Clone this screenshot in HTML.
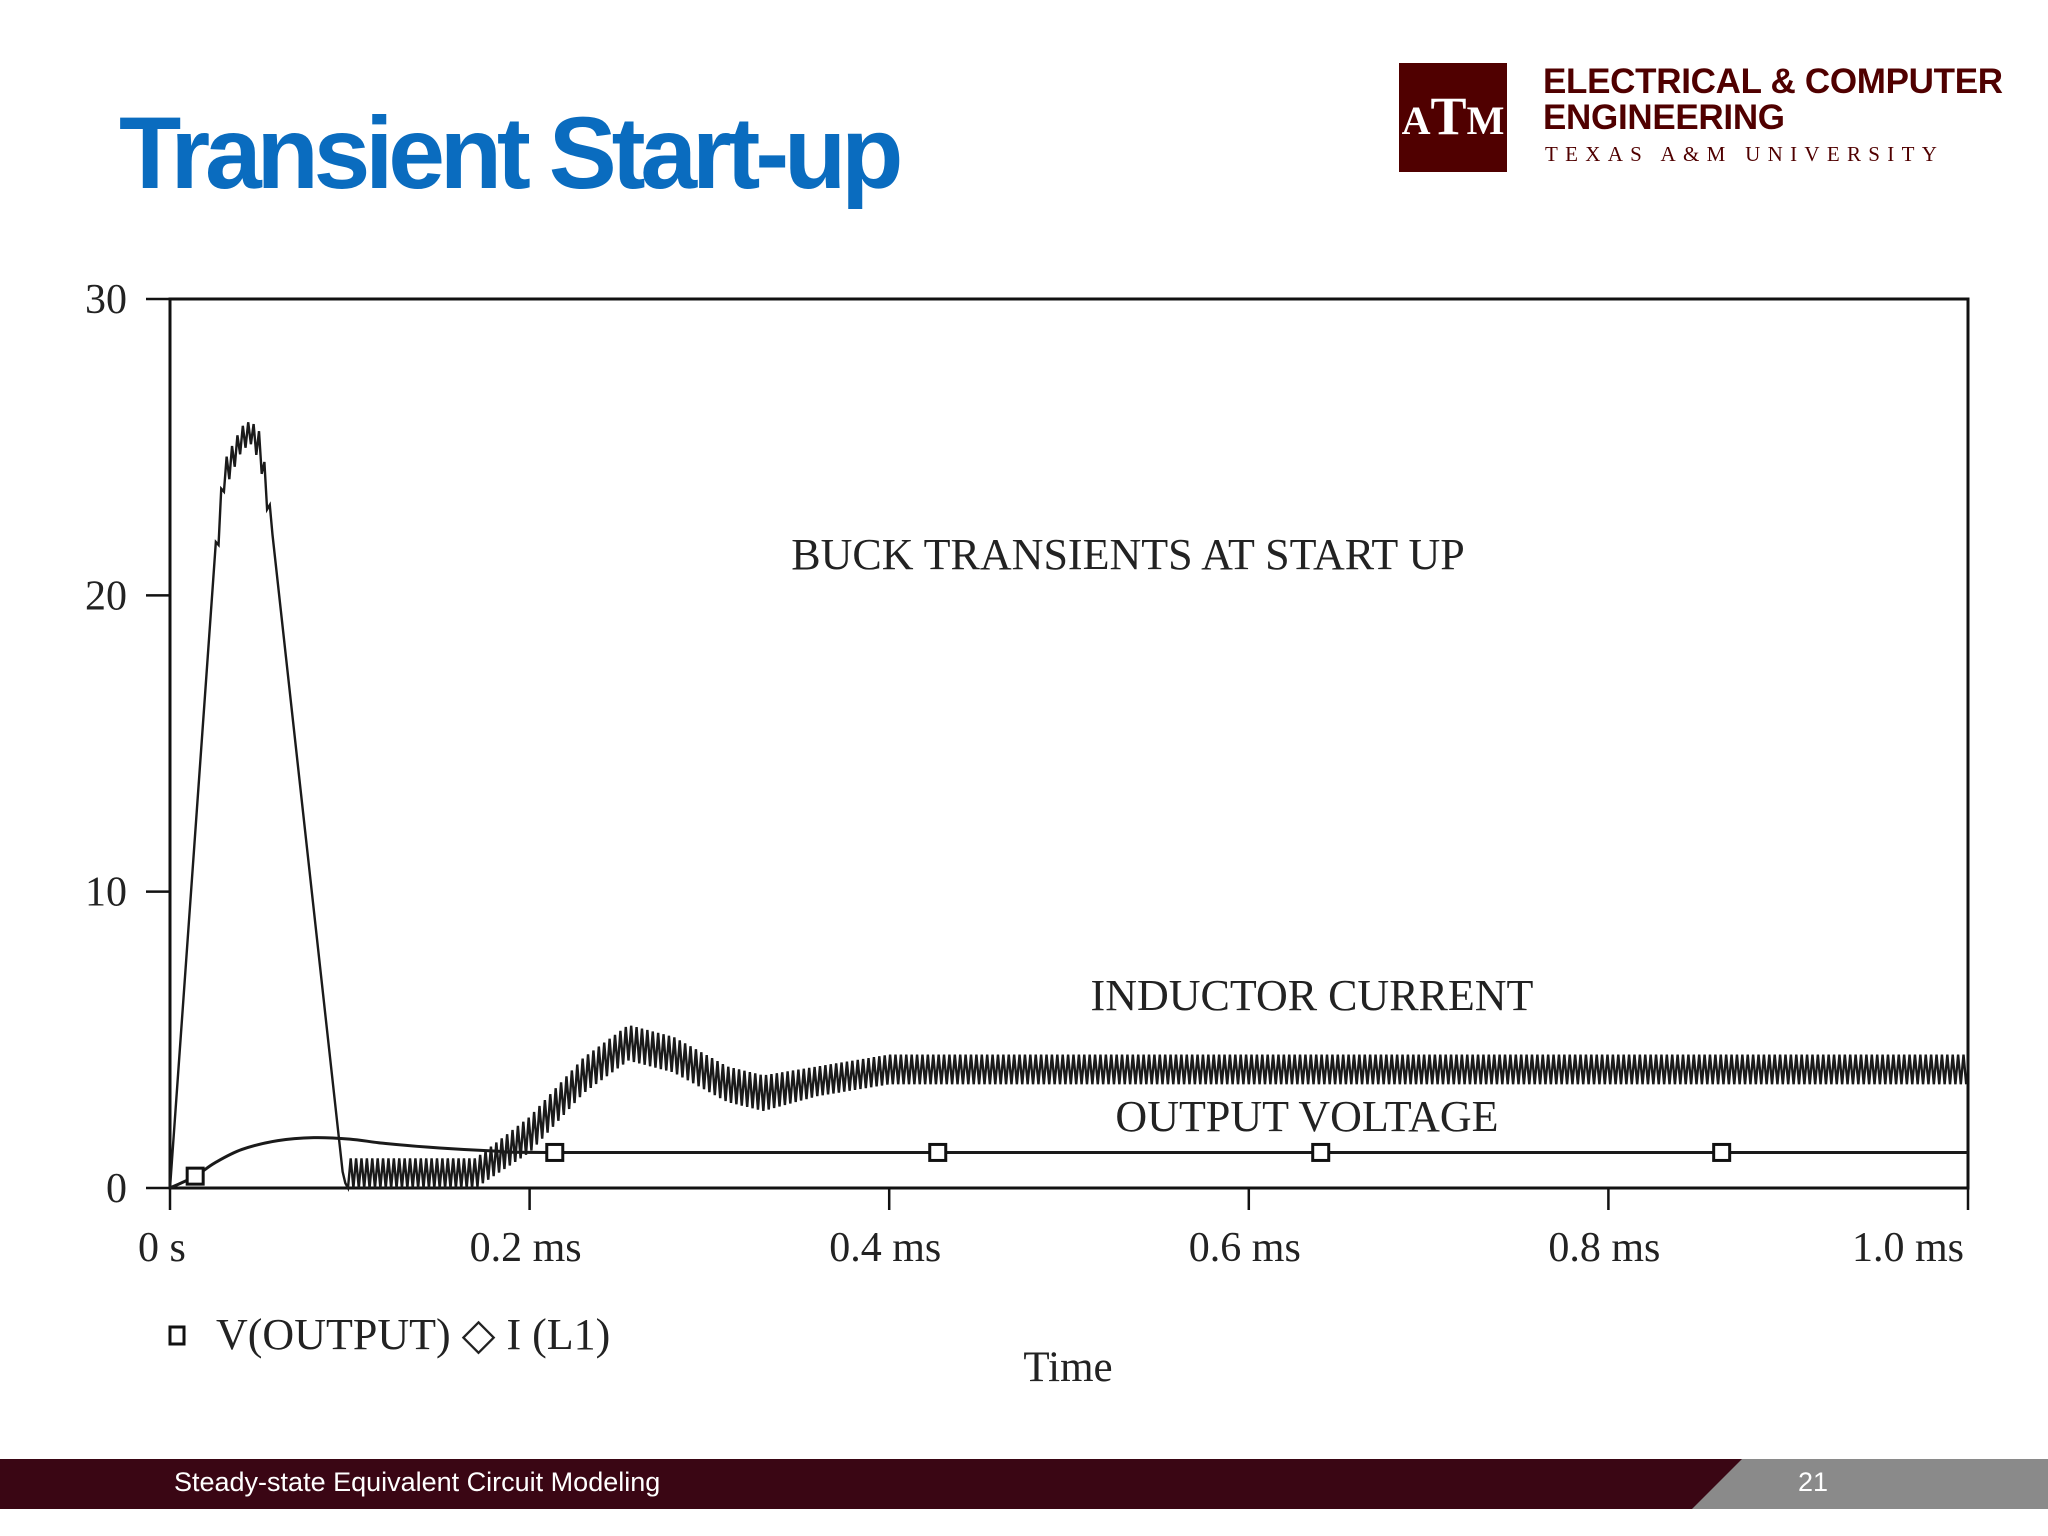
<!DOCTYPE html>
<html><head><meta charset="utf-8">
<style>
html,body{margin:0;padding:0;background:#fff;}
#page{position:relative;width:2048px;height:1536px;overflow:hidden;background:#fff;font-family:"Liberation Sans",sans-serif;}
.abs{position:absolute;}
</style></head>
<body>
<div id="page">
  <div class="abs" style="left:119px;top:98px;font-size:102px;font-weight:bold;color:#0a6cbf;letter-spacing:-5.2px;line-height:110px;">Transient Start-up</div>
  <div class="abs" style="left:1399px;top:63px;width:108px;height:109px;background:#500000;">
    <div style="position:absolute;left:0;top:22px;width:108px;text-align:center;color:#fff;font-family:'Liberation Serif',serif;font-weight:bold;font-size:40px;">A<span style="font-size:54px;">T</span>M</div>
  </div>
  <div class="abs" style="left:1543px;top:64px;font-size:35px;font-weight:bold;color:#500000;line-height:36px;letter-spacing:-0.3px;">ELECTRICAL &amp; COMPUTER<br>ENGINEERING</div>
  <div class="abs" style="left:1545px;top:142px;font-family:'Liberation Serif',serif;font-size:21px;color:#500000;letter-spacing:7.3px;">TEXAS A&amp;M UNIVERSITY</div>

  <svg class="abs" style="left:0;top:0" width="2048" height="1536" id="chart"></svg>

  <div class="abs" style="left:0;top:1459px;width:2048px;height:50px;background:#8a8a8a;"></div>
  <div class="abs" style="left:0;top:1459px;width:1742px;height:50px;background:#3a0614;clip-path:polygon(0 0,100% 0,calc(100% - 50px) 100%,0 100%);"></div>
  <div class="abs" style="left:174px;top:1467px;font-size:27px;color:#fff;">Steady-state Equivalent Circuit Modeling</div>
  <div class="abs" style="left:1798px;top:1467px;font-size:27px;color:#fff;">21</div>
</div>
<script>
// Inductor current envelope (ms, A mean, half ripple)
const iTimes = [0, 0.024, 0.025, 0.03, 0.04, 0.045, 0.05, 0.055, 0.056, 0.097, 0.1, 0.17, 0.2, 0.23, 0.255, 0.28, 0.31, 0.33, 0.36, 0.4, 0.5, 1.0];
const iMean  = [0, 20.5, 21, 24, 25.3, 25.5, 25, 23, 22.6, 0, 0.5, 0.5, 1.8, 3.8, 4.9, 4.5, 3.5, 3.2, 3.6, 4.0, 4.0, 4.0];
const iRipple= [0, 0, 0.5, 0.5, 0.4, 0.4, 0.5, 0.5, 0, 0, 0.5, 0.5, 0.6, 0.6, 0.6, 0.6, 0.6, 0.6, 0.5, 0.5, 0.5, 0.5];
// Output voltage
const vTimes = [0, 0.014, 0.025, 0.04, 0.06, 0.08, 0.1, 0.12, 0.15, 0.18, 0.21, 0.4, 1.0];
const vValues= [0, 0.4, 0.85, 1.3, 1.6, 1.7, 1.65, 1.5, 1.35, 1.25, 1.2, 1.2, 1.2];
const markerTimes = [0.014, 0.214, 0.427, 0.64, 0.863];
const yTicks = [0, 10, 20, 30];
const xTicks = [0, 0.2, 0.4, 0.6, 0.8, 1.0];
const xTickLabels = ["0 s", "0.2 ms", "0.4 ms", "0.6 ms", "0.8 ms", "1.0 ms"];

const NS = "http://www.w3.org/2000/svg";
const svg = document.getElementById('chart');
const L=170, R=1968, T=299, B=1188;
const X = t => L + t/1.0*(R-L);
const Y = v => B - v/30*(B-T);
function mk(tag, attrs, parent){const e=document.createElementNS(NS,tag);for(const k in attrs)e.setAttribute(k,attrs[k]);(parent||svg).appendChild(e);return e;}
function interp(ts, vs, t){for(let i=1;i<ts.length;i++){if(t<=ts[i]){const f=(t-ts[i-1])/(ts[i]-ts[i-1]||1);return vs[i-1]+f*(vs[i]-vs[i-1]);}}return vs[vs.length-1];}
const serif = '"Liberation Serif", serif';

const frame = mk('rect',{x:L,y:T,width:R-L,height:B-T,fill:'none',stroke:'#111','stroke-width':3});



yTicks.forEach(v=>{
  const tk=mk('line',{x1:L-24,x2:L,y1:Y(v),y2:Y(v),stroke:'#111','stroke-width':2.5});
  
  
  const tx=mk('text',{x:127,y:Y(v)+14,'text-anchor':'end','font-family':serif,'font-size':42,fill:'#222'});
  tx.textContent=v;
  
  
});
xTicks.forEach((t,i)=>{
  const tk=mk('line',{x1:X(t),x2:X(t),y1:B,y2:B+22,stroke:'#111','stroke-width':2.5});
  
  
  const anchor = i===0?'start':(i===xTicks.length-1?'end':'middle');
  const xx = i===0?X(t)-32:X(t)-4;
  const tx=mk('text',{x:xx,y:1261,'text-anchor':anchor,'font-family':serif,'font-size':42,fill:'#222'});
  tx.textContent=xTickLabels[i];
  
  
});

// inductor current with switching ripple
const period = 0.003;
let pts=[[X(0),Y(0)]];
for(let t=0.0; t<=1.0+1e-9; t+=period/2){
  const k=Math.round(t/(period/2));
  const m=interp(iTimes,iMean,t), r=interp(iTimes,iRipple,t);
  const v = m + (k%2===0?-r:r);
  pts.push([X(t),Y(Math.max(0,v))]);
}
const ipath=mk('polyline',{points:pts.map(p=>p.join(',')).join(' '),fill:'none',stroke:'#1a1a1a','stroke-width':2.4,'stroke-linejoin':'miter'});



// output voltage (smoothed via Catmull-Rom through data points)
function cr(ts,vs){let d=`M${X(ts[0])},${Y(vs[0])}`;for(let i=0;i<ts.length-1;i++){const p0=[X(ts[Math.max(0,i-1)]),Y(vs[Math.max(0,i-1)])],p1=[X(ts[i]),Y(vs[i])],p2=[X(ts[i+1]),Y(vs[i+1])],p3=[X(ts[Math.min(ts.length-1,i+2)]),Y(vs[Math.min(ts.length-1,i+2)])];d+=` C${p1[0]+(p2[0]-p0[0])/6},${p1[1]+(p2[1]-p0[1])/6} ${p2[0]-(p3[0]-p1[0])/6},${p2[1]-(p3[1]-p1[1])/6} ${p2[0]},${p2[1]}`;}return d;}
const vpath=mk('path',{d:cr(vTimes,vValues),fill:'none',stroke:'#1a1a1a','stroke-width':3});


markerTimes.forEach(t=>{
  const m=mk('rect',{x:X(t)-8,y:Y(interp(vTimes,vValues,t))-8,width:16,height:16,fill:'#fff',stroke:'#111','stroke-width':3});
  
  
});

function label(txt,x,y,size,name,anchor){const e=mk('text',{x:x,y:y,'text-anchor':anchor||'middle','font-family':serif,'font-size':size,fill:'#222'});e.textContent=txt;return e;}
label('BUCK TRANSIENTS AT START UP',1128,569,44,'chart-title');
label('INDUCTOR CURRENT',1312,1010,44,'inductor-current-label');
label('OUTPUT VOLTAGE',1307,1131,44,'output-voltage-label');
label('Time',1068,1381,43,'x-axis-title');
const lb=mk('rect',{x:170,y:1327,width:14,height:17,fill:'none',stroke:'#111','stroke-width':3});


label('V(OUTPUT) \u25C7 I (L1)',216,1349,44,'legend-entry','start');
</script>
</body></html>
